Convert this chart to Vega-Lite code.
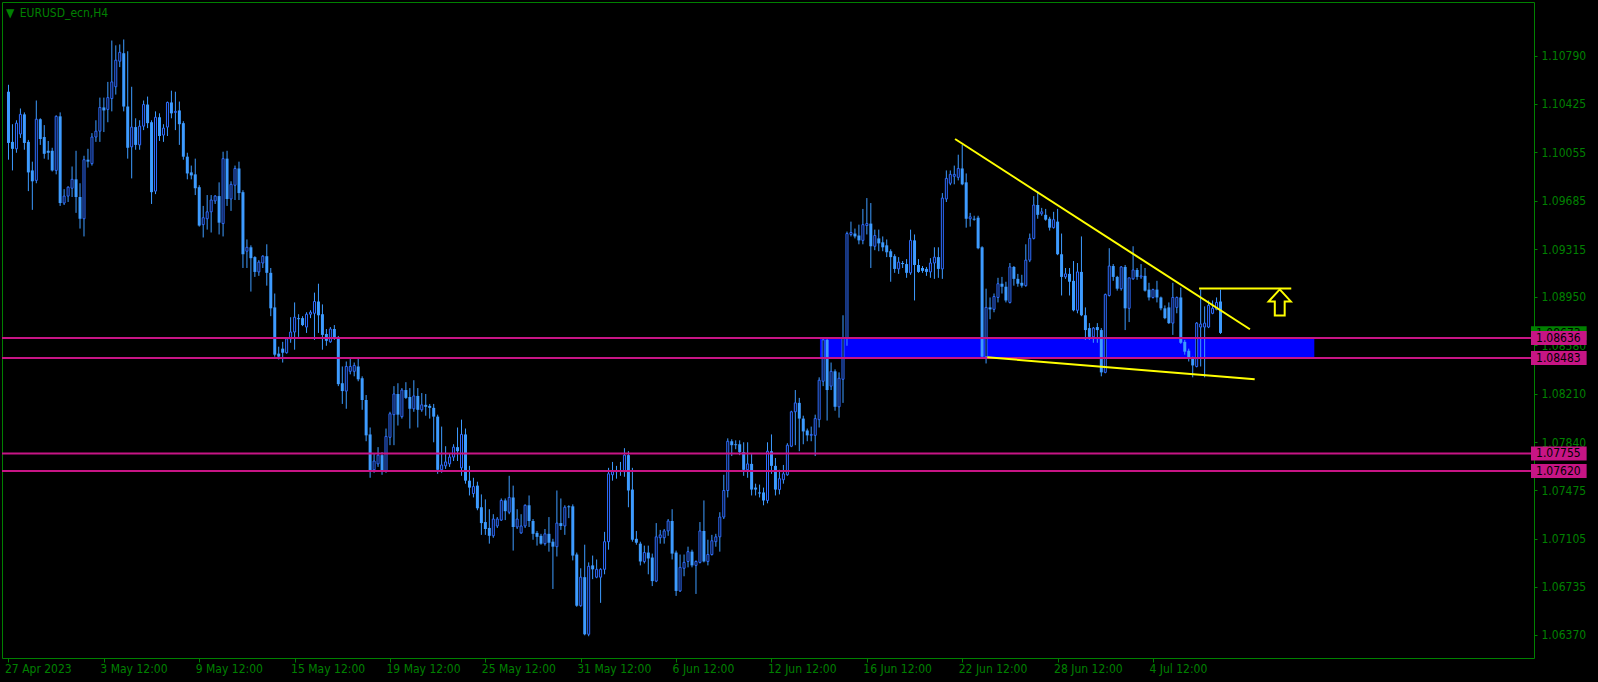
{
"$schema": "https://vega.github.io/schema/vega-lite/v6.json",
"width": 1532, "height": 656,
"autosize": {"type": "none"},
"padding": {"left": 2, "top": 2, "right": 64, "bottom": 24},
"background": "#000000",
"title": {"text": "▼\u2002EURUSD_ecn,H4", "anchor": "start", "frame": "group", "offset": -18, "dx": 4, "color": "#008000", "font": "DejaVu Sans Condensed, Liberation Sans Narrow, DejaVu Sans, sans-serif", "fontSize": 12, "fontWeight": "normal"},
"config": {"view": {"stroke": "#008000", "strokeWidth": 1, "fill": "#000000"}},
"datasets": {
"zone": [{"start": 204.2, "end": 328.6, "top": 1.08636, "bottom": 1.08483}],
"levels": [{"price": 1.08636}, {"price": 1.08483}, {"price": 1.07755}, {"price": 1.0762}],
"bid": [{"price": 1.08673}],
"trend": [
{"line": "upper", "i": 238.2, "price": 1.10156}, {"line": "upper", "i": 312.4, "price": 1.08703},
{"line": "lower", "i": 246.3, "price": 1.08489}, {"line": "lower", "i": 313.6, "price": 1.08321},
{"line": "flat", "i": 299.6, "price": 1.09015}, {"line": "flat", "i": 322.8, "price": 1.09015}],
"arrow": [{"i": 319.9, "price": 1.08908}],
"candles": [
{"i":0,"o":1.10517,"h":1.10570,"l":1.09998,"c":1.10126},
{"i":1,"o":1.10134,"h":1.10269,"l":1.09916,"c":1.10081},
{"i":2,"o":1.10081,"h":1.10299,"l":1.10051,"c":1.10277},
{"i":3,"o":1.10194,"h":1.10389,"l":1.10164,"c":1.10344},
{"i":4,"o":1.10344,"h":1.10359,"l":1.10074,"c":1.10126},
{"i":5,"o":1.10134,"h":1.10149,"l":1.09758,"c":1.09901},
{"i":6,"o":1.09916,"h":1.09983,"l":1.09615,"c":1.09833},
{"i":7,"o":1.09840,"h":1.10450,"l":1.09818,"c":1.10307},
{"i":8,"o":1.10307,"h":1.10314,"l":1.10111,"c":1.10156},
{"i":9,"o":1.10171,"h":1.10262,"l":1.10006,"c":1.10043},
{"i":10,"o":1.10066,"h":1.10141,"l":1.09998,"c":1.10051},
{"i":11,"o":1.10066,"h":1.10089,"l":1.09908,"c":1.09916},
{"i":12,"o":1.09916,"h":1.10337,"l":1.09886,"c":1.10329},
{"i":13,"o":1.10329,"h":1.10359,"l":1.09645,"c":1.09667},
{"i":14,"o":1.09667,"h":1.09773,"l":1.09652,"c":1.09720},
{"i":15,"o":1.09720,"h":1.09795,"l":1.09675,"c":1.09788},
{"i":16,"o":1.09780,"h":1.09946,"l":1.09713,"c":1.09848},
{"i":17,"o":1.09848,"h":1.10066,"l":1.09592,"c":1.09713},
{"i":18,"o":1.09713,"h":1.09818,"l":1.09472,"c":1.09547},
{"i":19,"o":1.09547,"h":1.10028,"l":1.09412,"c":1.09998},
{"i":20,"o":1.09998,"h":1.10081,"l":1.09938,"c":1.09983},
{"i":21,"o":1.09968,"h":1.10201,"l":1.09953,"c":1.10171},
{"i":22,"o":1.10171,"h":1.10299,"l":1.10134,"c":1.10216},
{"i":23,"o":1.10216,"h":1.10472,"l":1.10134,"c":1.10397},
{"i":24,"o":1.10397,"h":1.10472,"l":1.10209,"c":1.10374},
{"i":25,"o":1.10382,"h":1.10592,"l":1.10284,"c":1.10472},
{"i":26,"o":1.10465,"h":1.10908,"l":1.10367,"c":1.10592},
{"i":27,"o":1.10555,"h":1.10871,"l":1.10495,"c":1.10758},
{"i":28,"o":1.10750,"h":1.10878,"l":1.10705,"c":1.10818},
{"i":29,"o":1.10811,"h":1.10916,"l":1.10367,"c":1.10404},
{"i":30,"o":1.10404,"h":1.10826,"l":1.10006,"c":1.10089},
{"i":31,"o":1.10096,"h":1.10555,"l":1.09855,"c":1.10247},
{"i":32,"o":1.10247,"h":1.10314,"l":1.10074,"c":1.10111},
{"i":33,"o":1.10111,"h":1.10299,"l":1.10074,"c":1.10254},
{"i":34,"o":1.10254,"h":1.10450,"l":1.10224,"c":1.10419},
{"i":35,"o":1.10419,"h":1.10480,"l":1.10239,"c":1.10277},
{"i":36,"o":1.10284,"h":1.10299,"l":1.09660,"c":1.09750},
{"i":37,"o":1.09758,"h":1.10367,"l":1.09735,"c":1.10322},
{"i":38,"o":1.10322,"h":1.10352,"l":1.10141,"c":1.10179},
{"i":39,"o":1.10186,"h":1.10269,"l":1.10134,"c":1.10239},
{"i":40,"o":1.10247,"h":1.10442,"l":1.10179,"c":1.10435},
{"i":41,"o":1.10435,"h":1.10525,"l":1.10314,"c":1.10352},
{"i":42,"o":1.10359,"h":1.10517,"l":1.10224,"c":1.10367},
{"i":43,"o":1.10374,"h":1.10442,"l":1.10111,"c":1.10269},
{"i":44,"o":1.10277,"h":1.10292,"l":1.09998,"c":1.10021},
{"i":45,"o":1.10021,"h":1.10051,"l":1.09848,"c":1.09893},
{"i":46,"o":1.09901,"h":1.09953,"l":1.09848,"c":1.09878},
{"i":47,"o":1.09886,"h":1.10006,"l":1.09728,"c":1.09780},
{"i":48,"o":1.09788,"h":1.09803,"l":1.09487,"c":1.09495},
{"i":49,"o":1.09502,"h":1.09645,"l":1.09404,"c":1.09555},
{"i":50,"o":1.09547,"h":1.09728,"l":1.09464,"c":1.09600},
{"i":51,"o":1.09600,"h":1.09728,"l":1.09442,"c":1.09690},
{"i":52,"o":1.09683,"h":1.09728,"l":1.09660,"c":1.09720},
{"i":53,"o":1.09720,"h":1.09825,"l":1.09427,"c":1.09517},
{"i":54,"o":1.09510,"h":1.10059,"l":1.09412,"c":1.10006},
{"i":55,"o":1.10006,"h":1.10066,"l":1.09645,"c":1.09698},
{"i":56,"o":1.09698,"h":1.09833,"l":1.09607,"c":1.09810},
{"i":57,"o":1.09803,"h":1.09953,"l":1.09690,"c":1.09931},
{"i":58,"o":1.09931,"h":1.09983,"l":1.09690,"c":1.09743},
{"i":59,"o":1.09750,"h":1.09765,"l":1.09171,"c":1.09276},
{"i":60,"o":1.09299,"h":1.09389,"l":1.09171,"c":1.09329},
{"i":61,"o":1.09329,"h":1.09344,"l":1.08991,"c":1.09246},
{"i":62,"o":1.09254,"h":1.09261,"l":1.09103,"c":1.09141},
{"i":63,"o":1.09141,"h":1.09231,"l":1.09111,"c":1.09216},
{"i":64,"o":1.09209,"h":1.09269,"l":1.09171,"c":1.09261},
{"i":65,"o":1.09261,"h":1.09352,"l":1.09036,"c":1.09134},
{"i":66,"o":1.09134,"h":1.09171,"l":1.08803,"c":1.08863},
{"i":67,"o":1.08870,"h":1.08976,"l":1.08494,"c":1.08509},
{"i":68,"o":1.08517,"h":1.08570,"l":1.08472,"c":1.08494},
{"i":69,"o":1.08555,"h":1.08607,"l":1.08449,"c":1.08524},
{"i":70,"o":1.08524,"h":1.08637,"l":1.08517,"c":1.08630},
{"i":71,"o":1.08630,"h":1.08795,"l":1.08600,"c":1.08682},
{"i":72,"o":1.08682,"h":1.08908,"l":1.08547,"c":1.08795},
{"i":73,"o":1.08788,"h":1.08818,"l":1.08645,"c":1.08780},
{"i":74,"o":1.08788,"h":1.08803,"l":1.08727,"c":1.08735},
{"i":75,"o":1.08720,"h":1.08833,"l":1.08675,"c":1.08818},
{"i":76,"o":1.08818,"h":1.08848,"l":1.08788,"c":1.08833},
{"i":77,"o":1.08825,"h":1.08983,"l":1.08622,"c":1.08915},
{"i":78,"o":1.08915,"h":1.09051,"l":1.08675,"c":1.08810},
{"i":79,"o":1.08818,"h":1.08893,"l":1.08547,"c":1.08660},
{"i":80,"o":1.08667,"h":1.08705,"l":1.08577,"c":1.08615},
{"i":81,"o":1.08607,"h":1.08720,"l":1.08600,"c":1.08705},
{"i":82,"o":1.08705,"h":1.08735,"l":1.08622,"c":1.08637},
{"i":83,"o":1.08637,"h":1.08652,"l":1.08269,"c":1.08284},
{"i":84,"o":1.08291,"h":1.08419,"l":1.08133,"c":1.08231},
{"i":85,"o":1.08231,"h":1.08457,"l":1.08096,"c":1.08419},
{"i":86,"o":1.08382,"h":1.08487,"l":1.08359,"c":1.08419},
{"i":87,"o":1.08382,"h":1.08449,"l":1.08344,"c":1.08427},
{"i":88,"o":1.08419,"h":1.08487,"l":1.08306,"c":1.08321},
{"i":89,"o":1.08329,"h":1.08344,"l":1.08088,"c":1.08163},
{"i":90,"o":1.08163,"h":1.08201,"l":1.07848,"c":1.07893},
{"i":91,"o":1.07900,"h":1.07953,"l":1.07569,"c":1.07622},
{"i":92,"o":1.07630,"h":1.07757,"l":1.07607,"c":1.07697},
{"i":93,"o":1.07675,"h":1.07803,"l":1.07652,"c":1.07742},
{"i":94,"o":1.07742,"h":1.07765,"l":1.07592,"c":1.07622},
{"i":95,"o":1.07622,"h":1.07945,"l":1.07607,"c":1.07885},
{"i":96,"o":1.07878,"h":1.08073,"l":1.07818,"c":1.08058},
{"i":97,"o":1.08051,"h":1.08269,"l":1.07818,"c":1.08209},
{"i":98,"o":1.08209,"h":1.08291,"l":1.07968,"c":1.08051},
{"i":99,"o":1.08036,"h":1.08254,"l":1.08021,"c":1.08239},
{"i":100,"o":1.08239,"h":1.08299,"l":1.08171,"c":1.08179},
{"i":101,"o":1.08186,"h":1.08254,"l":1.07945,"c":1.08096},
{"i":102,"o":1.08096,"h":1.08314,"l":1.08073,"c":1.08194},
{"i":103,"o":1.08194,"h":1.08254,"l":1.07953,"c":1.08088},
{"i":104,"o":1.08088,"h":1.08216,"l":1.08073,"c":1.08126},
{"i":105,"o":1.08126,"h":1.08209,"l":1.08043,"c":1.08111},
{"i":106,"o":1.08118,"h":1.08133,"l":1.08021,"c":1.08103},
{"i":107,"o":1.08103,"h":1.08133,"l":1.07840,"c":1.08036},
{"i":108,"o":1.08036,"h":1.08051,"l":1.07599,"c":1.07630},
{"i":109,"o":1.07630,"h":1.07960,"l":1.07607,"c":1.07667},
{"i":110,"o":1.07660,"h":1.07810,"l":1.07637,"c":1.07690},
{"i":111,"o":1.07675,"h":1.07757,"l":1.07652,"c":1.07727},
{"i":112,"o":1.07727,"h":1.07825,"l":1.07697,"c":1.07803},
{"i":113,"o":1.07803,"h":1.07953,"l":1.07697,"c":1.07772},
{"i":114,"o":1.07645,"h":1.08013,"l":1.07584,"c":1.07900},
{"i":115,"o":1.07900,"h":1.07945,"l":1.07524,"c":1.07547},
{"i":116,"o":1.07547,"h":1.07660,"l":1.07434,"c":1.07494},
{"i":117,"o":1.07449,"h":1.07569,"l":1.07419,"c":1.07502},
{"i":118,"o":1.07509,"h":1.07539,"l":1.07321,"c":1.07336},
{"i":119,"o":1.07344,"h":1.07442,"l":1.07133,"c":1.07223},
{"i":120,"o":1.07231,"h":1.07404,"l":1.07133,"c":1.07178},
{"i":121,"o":1.07186,"h":1.07329,"l":1.07066,"c":1.07126},
{"i":122,"o":1.07126,"h":1.07291,"l":1.07111,"c":1.07254},
{"i":123,"o":1.07201,"h":1.07269,"l":1.07186,"c":1.07254},
{"i":124,"o":1.07246,"h":1.07411,"l":1.07239,"c":1.07396},
{"i":125,"o":1.07396,"h":1.07411,"l":1.07246,"c":1.07314},
{"i":126,"o":1.07306,"h":1.07584,"l":1.07291,"c":1.07419},
{"i":127,"o":1.07419,"h":1.07509,"l":1.07013,"c":1.07193},
{"i":128,"o":1.07193,"h":1.07329,"l":1.07178,"c":1.07254},
{"i":129,"o":1.07148,"h":1.07291,"l":1.07141,"c":1.07201},
{"i":130,"o":1.07201,"h":1.07366,"l":1.07186,"c":1.07359},
{"i":131,"o":1.07359,"h":1.07434,"l":1.07193,"c":1.07239},
{"i":132,"o":1.07239,"h":1.07254,"l":1.07096,"c":1.07141},
{"i":133,"o":1.07148,"h":1.07163,"l":1.07051,"c":1.07118},
{"i":134,"o":1.07126,"h":1.07141,"l":1.07058,"c":1.07066},
{"i":135,"o":1.07066,"h":1.07178,"l":1.07051,"c":1.07141},
{"i":136,"o":1.07141,"h":1.07269,"l":1.07005,"c":1.07073},
{"i":137,"o":1.07081,"h":1.07103,"l":1.06720,"c":1.07043},
{"i":138,"o":1.07043,"h":1.07472,"l":1.06968,"c":1.07223},
{"i":139,"o":1.07223,"h":1.07411,"l":1.07171,"c":1.07201},
{"i":140,"o":1.07201,"h":1.07359,"l":1.07133,"c":1.07344},
{"i":141,"o":1.07351,"h":1.07359,"l":1.07261,"c":1.07344},
{"i":142,"o":1.07351,"h":1.07366,"l":1.06938,"c":1.06975},
{"i":143,"o":1.06983,"h":1.06998,"l":1.06584,"c":1.06592},
{"i":144,"o":1.06592,"h":1.06878,"l":1.06584,"c":1.06810},
{"i":145,"o":1.06810,"h":1.07058,"l":1.06366,"c":1.06374},
{"i":146,"o":1.06374,"h":1.06923,"l":1.06359,"c":1.06893},
{"i":147,"o":1.06900,"h":1.06975,"l":1.06795,"c":1.06870},
{"i":148,"o":1.06810,"h":1.06945,"l":1.06802,"c":1.06870},
{"i":149,"o":1.06810,"h":1.06878,"l":1.06614,"c":1.06870},
{"i":150,"o":1.06870,"h":1.07156,"l":1.06832,"c":1.07081},
{"i":151,"o":1.07081,"h":1.07645,"l":1.07020,"c":1.07599},
{"i":152,"o":1.07592,"h":1.07690,"l":1.07547,"c":1.07615},
{"i":153,"o":1.07615,"h":1.07660,"l":1.07562,"c":1.07622},
{"i":154,"o":1.07622,"h":1.07690,"l":1.07584,"c":1.07615},
{"i":155,"o":1.07615,"h":1.07795,"l":1.07577,"c":1.07742},
{"i":156,"o":1.07742,"h":1.07772,"l":1.07344,"c":1.07472},
{"i":157,"o":1.07479,"h":1.07645,"l":1.07081,"c":1.07096},
{"i":158,"o":1.07103,"h":1.07163,"l":1.07058,"c":1.07073},
{"i":159,"o":1.07066,"h":1.07081,"l":1.06900,"c":1.06930},
{"i":160,"o":1.06930,"h":1.07051,"l":1.06915,"c":1.06998},
{"i":161,"o":1.06998,"h":1.07051,"l":1.06832,"c":1.06953},
{"i":162,"o":1.06960,"h":1.06990,"l":1.06742,"c":1.06780},
{"i":163,"o":1.06780,"h":1.07223,"l":1.06772,"c":1.07118},
{"i":164,"o":1.07111,"h":1.07171,"l":1.07066,"c":1.07133},
{"i":165,"o":1.07111,"h":1.07178,"l":1.07066,"c":1.07163},
{"i":166,"o":1.07163,"h":1.07254,"l":1.07126,"c":1.07239},
{"i":167,"o":1.07239,"h":1.07329,"l":1.06945,"c":1.06990},
{"i":168,"o":1.06998,"h":1.07013,"l":1.06667,"c":1.06705},
{"i":169,"o":1.06705,"h":1.06983,"l":1.06697,"c":1.06885},
{"i":170,"o":1.06878,"h":1.06983,"l":1.06817,"c":1.06923},
{"i":171,"o":1.06930,"h":1.07043,"l":1.06885,"c":1.07005},
{"i":172,"o":1.07005,"h":1.07020,"l":1.06885,"c":1.06900},
{"i":173,"o":1.06900,"h":1.06938,"l":1.06682,"c":1.06930},
{"i":174,"o":1.06923,"h":1.07231,"l":1.06915,"c":1.07163},
{"i":175,"o":1.07163,"h":1.07396,"l":1.06923,"c":1.06930},
{"i":176,"o":1.06930,"h":1.07096,"l":1.06900,"c":1.06983},
{"i":177,"o":1.06983,"h":1.07133,"l":1.06975,"c":1.07088},
{"i":178,"o":1.07081,"h":1.07141,"l":1.07043,"c":1.07118},
{"i":179,"o":1.07118,"h":1.07306,"l":1.07005,"c":1.07269},
{"i":180,"o":1.07269,"h":1.07592,"l":1.07254,"c":1.07472},
{"i":181,"o":1.07472,"h":1.07870,"l":1.07419,"c":1.07848},
{"i":182,"o":1.07848,"h":1.07863,"l":1.07735,"c":1.07818},
{"i":183,"o":1.07825,"h":1.07855,"l":1.07787,"c":1.07818},
{"i":184,"o":1.07825,"h":1.07855,"l":1.07742,"c":1.07765},
{"i":185,"o":1.07765,"h":1.07840,"l":1.07584,"c":1.07630},
{"i":186,"o":1.07630,"h":1.07840,"l":1.07569,"c":1.07675},
{"i":187,"o":1.07675,"h":1.07750,"l":1.07434,"c":1.07479},
{"i":188,"o":1.07494,"h":1.07524,"l":1.07434,"c":1.07479},
{"i":189,"o":1.07457,"h":1.07517,"l":1.07419,"c":1.07449},
{"i":190,"o":1.07457,"h":1.07494,"l":1.07359,"c":1.07396},
{"i":191,"o":1.07396,"h":1.07840,"l":1.07374,"c":1.07772},
{"i":192,"o":1.07772,"h":1.07900,"l":1.07599,"c":1.07660},
{"i":193,"o":1.07660,"h":1.07720,"l":1.07434,"c":1.07479},
{"i":194,"o":1.07479,"h":1.07630,"l":1.07442,"c":1.07562},
{"i":195,"o":1.07554,"h":1.07667,"l":1.07524,"c":1.07599},
{"i":196,"o":1.07592,"h":1.07833,"l":1.07584,"c":1.07818},
{"i":197,"o":1.07810,"h":1.08081,"l":1.07803,"c":1.08073},
{"i":198,"o":1.08073,"h":1.08239,"l":1.07818,"c":1.08141},
{"i":199,"o":1.08141,"h":1.08179,"l":1.07772,"c":1.08021},
{"i":200,"o":1.08021,"h":1.08043,"l":1.07825,"c":1.07923},
{"i":201,"o":1.07930,"h":1.07945,"l":1.07848,"c":1.07893},
{"i":202,"o":1.07893,"h":1.07960,"l":1.07848,"c":1.07900},
{"i":203,"o":1.07893,"h":1.08051,"l":1.07735,"c":1.08021},
{"i":204,"o":1.08013,"h":1.08336,"l":1.07953,"c":1.08314},
{"i":205,"o":1.08306,"h":1.08630,"l":1.08269,"c":1.08622},
{"i":206,"o":1.08622,"h":1.08637,"l":1.08006,"c":1.08239},
{"i":207,"o":1.08269,"h":1.08449,"l":1.08239,"c":1.08382},
{"i":208,"o":1.08382,"h":1.08397,"l":1.08081,"c":1.08111},
{"i":209,"o":1.08111,"h":1.08374,"l":1.08028,"c":1.08329},
{"i":210,"o":1.08321,"h":1.08810,"l":1.08141,"c":1.08637},
{"i":211,"o":1.08637,"h":1.09449,"l":1.08577,"c":1.09434},
{"i":212,"o":1.09427,"h":1.09525,"l":1.09412,"c":1.09442},
{"i":213,"o":1.09434,"h":1.09472,"l":1.09397,"c":1.09412},
{"i":214,"o":1.09419,"h":1.09502,"l":1.09352,"c":1.09382},
{"i":215,"o":1.09382,"h":1.09622,"l":1.09352,"c":1.09502},
{"i":216,"o":1.09495,"h":1.09705,"l":1.09427,"c":1.09510},
{"i":217,"o":1.09510,"h":1.09667,"l":1.09171,"c":1.09337},
{"i":218,"o":1.09337,"h":1.09464,"l":1.09307,"c":1.09419},
{"i":219,"o":1.09397,"h":1.09464,"l":1.09299,"c":1.09359},
{"i":220,"o":1.09367,"h":1.09412,"l":1.09299,"c":1.09329},
{"i":221,"o":1.09344,"h":1.09389,"l":1.09254,"c":1.09291},
{"i":222,"o":1.09299,"h":1.09314,"l":1.09066,"c":1.09254},
{"i":223,"o":1.09261,"h":1.09276,"l":1.09134,"c":1.09164},
{"i":224,"o":1.09164,"h":1.09254,"l":1.09126,"c":1.09216},
{"i":225,"o":1.09209,"h":1.09224,"l":1.09171,"c":1.09201},
{"i":226,"o":1.09201,"h":1.09239,"l":1.09096,"c":1.09134},
{"i":227,"o":1.09134,"h":1.09464,"l":1.09119,"c":1.09382},
{"i":228,"o":1.09382,"h":1.09427,"l":1.08923,"c":1.09194},
{"i":229,"o":1.09194,"h":1.09239,"l":1.09134,"c":1.09141},
{"i":230,"o":1.09171,"h":1.09186,"l":1.09134,"c":1.09149},
{"i":231,"o":1.09164,"h":1.09179,"l":1.09111,"c":1.09141},
{"i":232,"o":1.09141,"h":1.09246,"l":1.09096,"c":1.09209},
{"i":233,"o":1.09209,"h":1.09329,"l":1.09088,"c":1.09254},
{"i":234,"o":1.09254,"h":1.09329,"l":1.09096,"c":1.09164},
{"i":235,"o":1.09164,"h":1.09743,"l":1.09088,"c":1.09705},
{"i":236,"o":1.09698,"h":1.09916,"l":1.09675,"c":1.09855},
{"i":237,"o":1.09818,"h":1.09916,"l":1.09803,"c":1.09886},
{"i":238,"o":1.09871,"h":1.09953,"l":1.09810,"c":1.09886},
{"i":239,"o":1.09863,"h":1.10036,"l":1.09840,"c":1.09931},
{"i":240,"o":1.09931,"h":1.10111,"l":1.09803,"c":1.09810},
{"i":241,"o":1.09825,"h":1.09893,"l":1.09479,"c":1.09547},
{"i":242,"o":1.09547,"h":1.09592,"l":1.09487,"c":1.09562},
{"i":243,"o":1.09547,"h":1.09570,"l":1.09532,"c":1.09540},
{"i":244,"o":1.09555,"h":1.09570,"l":1.09314,"c":1.09322},
{"i":245,"o":1.09329,"h":1.09337,"l":1.08487,"c":1.08494},
{"i":246,"o":1.08494,"h":1.09013,"l":1.08442,"c":1.08870},
{"i":247,"o":1.08870,"h":1.08946,"l":1.08780,"c":1.08855},
{"i":248,"o":1.08855,"h":1.08976,"l":1.08833,"c":1.08953},
{"i":249,"o":1.08946,"h":1.09096,"l":1.08908,"c":1.09051},
{"i":250,"o":1.09051,"h":1.09103,"l":1.08976,"c":1.09028},
{"i":251,"o":1.09028,"h":1.09066,"l":1.08908,"c":1.08923},
{"i":252,"o":1.08908,"h":1.09209,"l":1.08900,"c":1.09179},
{"i":253,"o":1.09179,"h":1.09186,"l":1.09036,"c":1.09088},
{"i":254,"o":1.09088,"h":1.09126,"l":1.09028,"c":1.09051},
{"i":255,"o":1.09058,"h":1.09119,"l":1.09021,"c":1.09036},
{"i":256,"o":1.09036,"h":1.09352,"l":1.09028,"c":1.09231},
{"i":257,"o":1.09231,"h":1.09434,"l":1.09216,"c":1.09397},
{"i":258,"o":1.09397,"h":1.09720,"l":1.09389,"c":1.09652},
{"i":259,"o":1.09652,"h":1.09758,"l":1.09547,"c":1.09577},
{"i":260,"o":1.09585,"h":1.09630,"l":1.09570,"c":1.09600},
{"i":261,"o":1.09577,"h":1.09622,"l":1.09532,"c":1.09540},
{"i":262,"o":1.09547,"h":1.09562,"l":1.09457,"c":1.09479},
{"i":263,"o":1.09479,"h":1.09600,"l":1.09472,"c":1.09540},
{"i":264,"o":1.09525,"h":1.09622,"l":1.09269,"c":1.09276},
{"i":265,"o":1.09276,"h":1.09434,"l":1.08961,"c":1.09103},
{"i":266,"o":1.09103,"h":1.09171,"l":1.09088,"c":1.09126},
{"i":267,"o":1.09126,"h":1.09171,"l":1.08961,"c":1.09066},
{"i":268,"o":1.09073,"h":1.09224,"l":1.08840,"c":1.08848},
{"i":269,"o":1.08848,"h":1.09209,"l":1.08825,"c":1.09141},
{"i":270,"o":1.09141,"h":1.09412,"l":1.08803,"c":1.08810},
{"i":271,"o":1.08810,"h":1.08870,"l":1.08622,"c":1.08697},
{"i":272,"o":1.08712,"h":1.08750,"l":1.08622,"c":1.08645},
{"i":273,"o":1.08645,"h":1.08720,"l":1.08600,"c":1.08712},
{"i":274,"o":1.08720,"h":1.08750,"l":1.08600,"c":1.08697},
{"i":275,"o":1.08697,"h":1.08712,"l":1.08344,"c":1.08374},
{"i":276,"o":1.08374,"h":1.08976,"l":1.08367,"c":1.08968},
{"i":277,"o":1.08961,"h":1.09322,"l":1.08953,"c":1.09186},
{"i":278,"o":1.09186,"h":1.09201,"l":1.09073,"c":1.09103},
{"i":279,"o":1.09103,"h":1.09111,"l":1.08998,"c":1.09013},
{"i":280,"o":1.09013,"h":1.09186,"l":1.08998,"c":1.09179},
{"i":281,"o":1.09179,"h":1.09194,"l":1.08697,"c":1.08863},
{"i":282,"o":1.08863,"h":1.09096,"l":1.08758,"c":1.09096},
{"i":283,"o":1.09088,"h":1.09337,"l":1.09081,"c":1.09156},
{"i":284,"o":1.09156,"h":1.09171,"l":1.09081,"c":1.09103},
{"i":285,"o":1.09103,"h":1.09201,"l":1.09088,"c":1.09111},
{"i":286,"o":1.09111,"h":1.09171,"l":1.08991,"c":1.08998},
{"i":287,"o":1.09006,"h":1.09058,"l":1.08923,"c":1.08946},
{"i":288,"o":1.08946,"h":1.09013,"l":1.08938,"c":1.09006},
{"i":289,"o":1.09006,"h":1.09073,"l":1.08908,"c":1.08946},
{"i":290,"o":1.08946,"h":1.08953,"l":1.08848,"c":1.08863},
{"i":291,"o":1.08863,"h":1.08885,"l":1.08780,"c":1.08788},
{"i":292,"o":1.08870,"h":1.08908,"l":1.08743,"c":1.08750},
{"i":293,"o":1.08750,"h":1.09058,"l":1.08660,"c":1.08946},
{"i":294,"o":1.08870,"h":1.08953,"l":1.08825,"c":1.08946},
{"i":295,"o":1.08946,"h":1.09021,"l":1.08592,"c":1.08600},
{"i":296,"o":1.08607,"h":1.08622,"l":1.08509,"c":1.08532},
{"i":297,"o":1.08539,"h":1.08555,"l":1.08457,"c":1.08479},
{"i":298,"o":1.08479,"h":1.08494,"l":1.08336,"c":1.08427},
{"i":299,"o":1.08419,"h":1.08758,"l":1.08412,"c":1.08750},
{"i":300,"o":1.08720,"h":1.09006,"l":1.08419,"c":1.08743},
{"i":301,"o":1.08720,"h":1.08878,"l":1.08336,"c":1.08750},
{"i":302,"o":1.08720,"h":1.08923,"l":1.08712,"c":1.08885},
{"i":303,"o":1.08825,"h":1.08923,"l":1.08818,"c":1.08863},
{"i":304,"o":1.08855,"h":1.08946,"l":1.08848,"c":1.08908},
{"i":305,"o":1.08915,"h":1.09006,"l":1.08667,"c":1.08675}
]},
"layer": [
{"data": {"name": "zone"}, "mark": {"type": "rect", "color": "#0000ff"},
 "encoding": {
  "x": {"field": "start", "type": "quantitative", "scale": {"domain": [-0.375, 382.625], "nice": false, "zero": false},
   "axis": {"values": [0,24,48,72,96,120,144,168,192,216,240,264,288], "labelExpr": "['27 Apr 2023','3 May 12:00','9 May 12:00','15 May 12:00','19 May 12:00','25 May 12:00','31 May 12:00','6 Jun 12:00','12 Jun 12:00','16 Jun 12:00','22 Jun 12:00','28 Jun 12:00','4 Jul 12:00'][round(datum.value/24)]", "labelAlign": "left", "labelOffset": -4, "labelColor": "#008000", "tickColor": "#008000", "tickSize": 4, "labelPadding": 1, "domain": false, "grid": false, "title": null, "labelFont": "DejaVu Sans Condensed, Liberation Sans Narrow, DejaVu Sans, sans-serif", "labelFontSize": 12, "labelOverlap": false, "labelFlush": false, "labelBound": false}},
  "x2": {"field": "end"},
  "y": {"field": "top", "type": "quantitative", "scale": {"domain": [1.06231, 1.11164], "nice": false, "zero": false},
   "axis": {"orient": "right", "values": [1.0637, 1.06735, 1.07105, 1.07475, 1.0784, 1.0821, 1.0858, 1.0895, 1.09315, 1.09685, 1.10055, 1.10425, 1.1079], "format": ".5f", "labelColor": "#008000", "tickColor": "#008000", "tickSize": 3, "labelPadding": 4, "domain": false, "grid": false, "title": null, "labelFont": "DejaVu Sans Condensed, Liberation Sans Narrow, DejaVu Sans, sans-serif", "labelFontSize": 12, "labelOverlap": false, "labelFlush": false, "labelBound": false}},
  "y2": {"field": "bottom"}}},
{"data": {"name": "candles"}, "mark": {"type": "rule", "color": "#3d9bff", "strokeWidth": 1},
 "encoding": {
  "x": {"field": "i", "type": "quantitative", "scale": {"domain": [-0.375, 382.625], "nice": false, "zero": false}},
  "y": {"field": "l", "type": "quantitative", "scale": {"domain": [1.06231, 1.11164], "nice": false, "zero": false}},
  "y2": {"field": "h"}}},
{"data": {"name": "candles"}, "transform": [{"filter": "datum.c <= datum.o"}], "mark": {"type": "bar", "size": 3, "color": "#3d9bff"},
 "encoding": {
  "x": {"field": "i", "type": "quantitative", "scale": {"domain": [-0.375, 382.625], "nice": false, "zero": false}},
  "y": {"field": "o", "type": "quantitative", "scale": {"domain": [1.06231, 1.11164], "nice": false, "zero": false}},
  "y2": {"field": "c"}}},
{"data": {"name": "candles"}, "transform": [{"filter": "datum.c > datum.o"}], "mark": {"type": "bar", "size": 2, "fill": "#000000", "stroke": "#2f6cff", "strokeWidth": 1},
 "encoding": {
  "x": {"field": "i", "type": "quantitative", "scale": {"domain": [-0.375, 382.625], "nice": false, "zero": false}},
  "y": {"field": "o", "type": "quantitative", "scale": {"domain": [1.06231, 1.11164], "nice": false, "zero": false}},
  "y2": {"field": "c"}}},
{"data": {"name": "levels"}, "mark": {"type": "rule", "color": "#c71585", "strokeWidth": 2},
 "encoding": {
  "y": {"field": "price", "type": "quantitative", "scale": {"domain": [1.06231, 1.11164], "nice": false, "zero": false}}}},
{"data": {"name": "trend"}, "mark": {"type": "line", "color": "#ffff00", "strokeWidth": 2},
 "encoding": {
  "x": {"field": "i", "type": "quantitative", "scale": {"domain": [-0.375, 382.625], "nice": false, "zero": false}},
  "y": {"field": "price", "type": "quantitative", "scale": {"domain": [1.06231, 1.11164], "nice": false, "zero": false}},
  "detail": {"field": "line"}}},
{"data": {"name": "arrow"}, "mark": {"type": "point", "shape": "M0,-1L0.85,-0.08L0.38,-0.08L0.38,1L-0.38,1L-0.38,-0.08L-0.85,-0.08Z", "size": 676, "filled": true, "fill": "#000000", "stroke": "#ffff00", "strokeWidth": 2, "opacity": 1},
 "encoding": {
  "x": {"field": "i", "type": "quantitative", "scale": {"domain": [-0.375, 382.625], "nice": false, "zero": false}},
  "y": {"field": "price", "type": "quantitative", "scale": {"domain": [1.06231, 1.11164], "nice": false, "zero": false}}}},
{"data": {"name": "bid"}, "mark": {"type": "bar", "orient": "horizontal", "size": 14, "color": "#008000"},
 "encoding": {
  "x": {"datum": 383.125, "type": "quantitative", "scale": {"domain": [-0.375, 382.625], "nice": false, "zero": false}},
  "x2": {"datum": 397.125},
  "y": {"field": "price", "type": "quantitative", "scale": {"domain": [1.06231, 1.11164], "nice": false, "zero": false}}}},
{"data": {"name": "bid"}, "mark": {"type": "text", "align": "left", "baseline": "middle", "color": "#000000", "font": "DejaVu Sans Condensed, Liberation Sans Narrow, DejaVu Sans, sans-serif", "fontSize": 12},
 "encoding": {
  "x": {"datum": 384.4, "type": "quantitative", "scale": {"domain": [-0.375, 382.625], "nice": false, "zero": false}},
  "y": {"field": "price", "type": "quantitative", "scale": {"domain": [1.06231, 1.11164], "nice": false, "zero": false}},
  "text": {"field": "price", "type": "quantitative", "format": ".5f"}}},
{"data": {"name": "levels"}, "mark": {"type": "bar", "orient": "horizontal", "size": 14, "color": "#c71585"},
 "encoding": {
  "x": {"datum": 383.125, "type": "quantitative", "scale": {"domain": [-0.375, 382.625], "nice": false, "zero": false}},
  "x2": {"datum": 397.125},
  "y": {"field": "price", "type": "quantitative", "scale": {"domain": [1.06231, 1.11164], "nice": false, "zero": false}}}},
{"data": {"name": "levels"}, "mark": {"type": "text", "align": "left", "baseline": "middle", "color": "#000000", "font": "DejaVu Sans Condensed, Liberation Sans Narrow, DejaVu Sans, sans-serif", "fontSize": 12},
 "encoding": {
  "x": {"datum": 384.4, "type": "quantitative", "scale": {"domain": [-0.375, 382.625], "nice": false, "zero": false}},
  "y": {"field": "price", "type": "quantitative", "scale": {"domain": [1.06231, 1.11164], "nice": false, "zero": false}},
  "text": {"field": "price", "type": "quantitative", "format": ".5f"}}}
]
}
